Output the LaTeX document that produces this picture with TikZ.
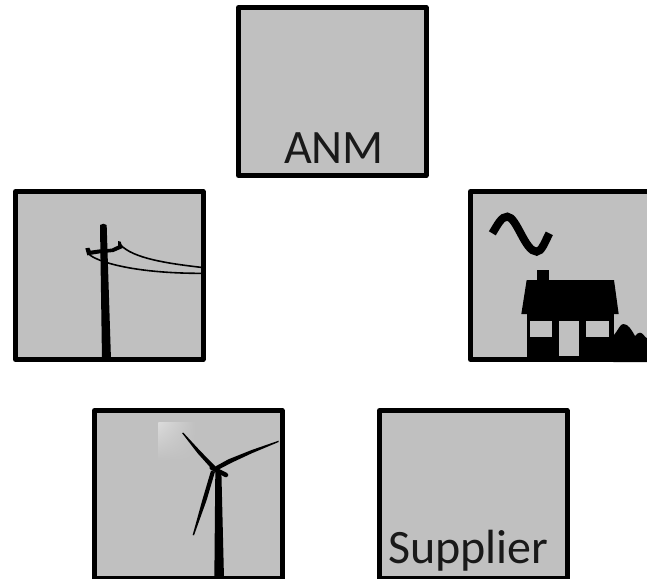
\documentclass[tikz,border=0pt]{standalone}
\usepackage{fontspec}
\setmainfont{Carlito}
\usetikzlibrary{shadings}

\begin{document}
\begin{tikzpicture}[x=1pt, y=-1pt,
    panel/.style={draw=black, fill=panelgrey, line width=5pt, line join=round, outer sep=0pt,
        minimum width=187.5pt, minimum height=168pt, inner sep=0pt, anchor=north west},
    caption/.style={font=\fontsize{48}{48}\selectfont, inner sep=0pt, anchor=base, text=black!90}]

    \definecolor{panelgrey}{HTML}{C0C0C0}
    \useasboundingbox (0, 0) rectangle (647, 578);

    % Панели
    \node[panel] (anm) at (238.5, 7.5) {};
    \node[panel] (line) at (15.5, 191.5) {};
    \node[panel] (load) at (470.5, 191.5) {};
    \node[panel] (wind) at (94.5, 410.5) {};
    \node[panel] (supplier) at (379.5, 410.5) {};

    % Подписи
    \node[caption] (anmlabel) at (334, 163) {ANM};
    \node[caption, anchor=base west] (supplierlabel) at (388, 563) {Supplier};

    % Столб и провода
    \begin{scope}[shift={(0, 180)}, scale=1/3]
        \fill (300, 135) to[bend left=40] (320, 135) -- (333, 540) -- (306, 540) -- cycle;
        \fill (256, 205) -- (268, 203) -- (272, 212) -- (300, 208) -- (335, 206)
            -- (354, 197) -- (354, 183) -- (362, 185) -- (368, 204) -- (340, 216)
            -- (300, 220) -- (262, 226) -- cycle;
        \draw[line width=1.6pt] (362, 195) .. controls (400, 235) and (500, 250) .. (603, 262);
        \draw[line width=1.6pt] (266, 222) .. controls (290, 245) and (400, 280) .. (603, 280);
    \end{scope}

    % Дом и синусоида
    \begin{scope}[shift={(460, 180)}, scale=1/3]
        \draw[line width=8pt] (97, 160) .. controls (115, 130) and (125, 110) .. (142, 110)
            .. controls (170, 110) and (195, 215) .. (230, 215)
            .. controls (245, 215) and (255, 185) .. (268, 160);
        \fill (232, 270) rectangle (266, 302);
        \fill (200, 300) -- (462, 300) -- (476, 402) -- (184, 402) -- cycle;
        \fill (200, 400) rectangle (462, 546);
        \fill (460, 546) -- (462, 465) .. controls (475, 450) and (480, 432) .. (490, 432)
            .. controls (505, 432) and (515, 450) .. (525, 468)
            .. controls (530, 462) and (535, 458) .. (540, 458)
            .. controls (548, 458) and (552, 470) .. (565, 478) -- (565, 546) -- cycle;
        \fill[panelgrey] (210, 423) rectangle (276, 470);
        \fill[panelgrey] (378, 423) rectangle (447, 470);
        \fill[panelgrey] (297, 423) rectangle (358, 528);
    \end{scope}

    % Ветряк
    \begin{scope}[shift={(85, 400)}, scale=1/3]
        \shade[upper left=black!14, upper right=panelgrey, lower left=panelgrey, lower right=panelgrey]
            (220, 66) rectangle (330, 180);
        \fill (391, 210) -- (409, 210) -- (417, 535) -- (388, 535) -- cycle;
        \fill (291, 99) -- (295, 98) -- (345, 152) -- (392, 200) -- (385, 212) -- (374, 200) -- (338, 160) -- cycle;
        \fill (581, 122) -- (581, 126) -- (500, 160) -- (440, 188) -- (398, 210) -- (390, 200) -- (430, 178) -- (500, 150) -- cycle;
        \fill (323, 405) -- (327, 406) -- (365, 300) -- (390, 215) -- (378, 212) -- (352, 300) -- cycle;
        \draw[line width=4.5pt, line cap=round] (380, 203) -- (423, 225);
    \end{scope}
\end{tikzpicture}
\end{document}
